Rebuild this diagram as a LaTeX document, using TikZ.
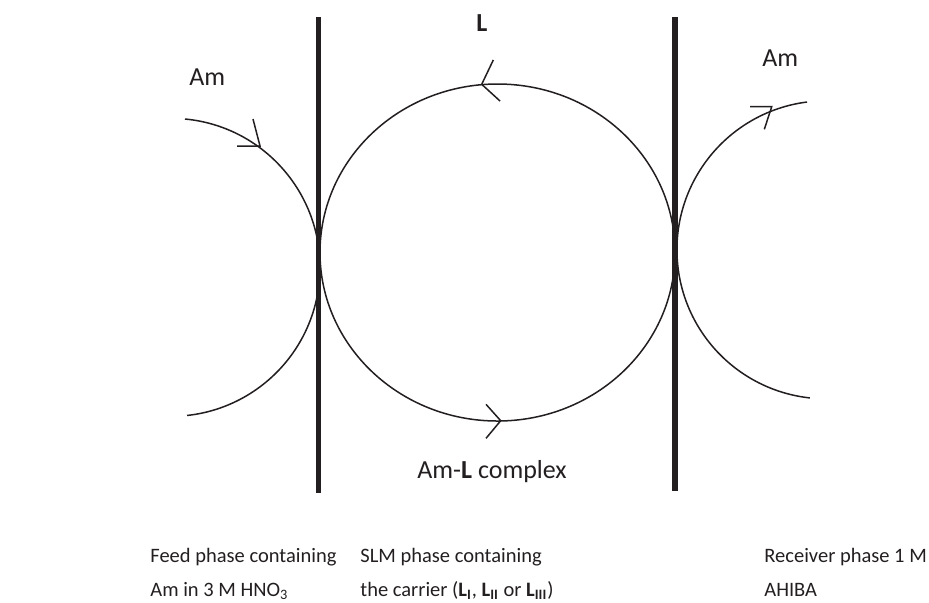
\documentclass[tikz,border=0pt]{standalone}
\usepackage{fontspec}
\setmainfont{Carlito}
\usepackage{tikz}
\usetikzlibrary{positioning}
\definecolor{slmink}{HTML}{231F20}

\begin{document}
\begin{tikzpicture}[
    x=0.5pt, y=-0.5pt,
    membrane/.style={line width=2.8pt, slmink},
    flow/.style={line width=0.75pt, slmink},
    chevron/.style={line width=0.75pt, slmink},
    label/.style={inner sep=0pt, anchor=base west, text=slmink, font=\fontsize{13}{16}\selectfont},
    phase/.style={label, font=\fontsize{10.25}{13}\selectfont}
]
\useasboundingbox (0,0) rectangle (929,602);

% Membranes
\coordinate (memL top) at (318.5,17);
\coordinate (memL bot) at (318.5,492.5);
\coordinate (memR top) at (675,17);
\coordinate (memR bot) at (675,491);
\draw[membrane] (memL top) -- (memL bot);
\draw[membrane] (memR top) -- (memR bot);

% Feed, SLM and receiver loops
\draw[flow] (185,119) arc[start angle=-84.6, end angle=83.8, radius=149];
\draw[flow] (497.5,252.5) ellipse[x radius=177.5, y radius=168.5];
\draw[flow] (807,102) arc[start angle=262.7, end angle=96.2, radius=149];

% Direction marks
\draw[chevron] (253,119) -- (260,146) -- (237,146);
\draw[chevron] (493.3,60) -- (481.7,84.3) -- (500,101);
\draw[chevron] (486,404.3) -- (500.7,420.7) -- (486,438.3);
\draw[chevron] (750,106.7) -- (771.7,106.7) -- (764.3,129.3);

% Species
\node[label] (amfeed) at (189,85) {Am};
\node[label] (ligand) at (476,31.5) {\textbf{L}};
\node[label] (amrecv) at (762,66) {Am};
\node[label] (complex) at (417,478) {Am-\textbf{L} complex};

% Phases
\node[phase] (feed1) at (150,562) {Feed phase containing};
\node[phase] (feed2) at (150,596) {Am in 3 M HNO\textsubscript{3}};
\node[phase] (slm1) at (360,562) {SLM phase containing};
\node[phase] (slm2) at (360,596) {the carrier (\textbf{L}\textsubscript{\textbf{I}}, \textbf{L}\textsubscript{\textbf{II}} or \textbf{L}\textsubscript{\textbf{III}})};
\node[phase] (recv1) at (764,562) {Receiver phase 1 M};
\node[phase] (recv2) at (764,596) {AHIBA};

\end{tikzpicture}
\end{document}
